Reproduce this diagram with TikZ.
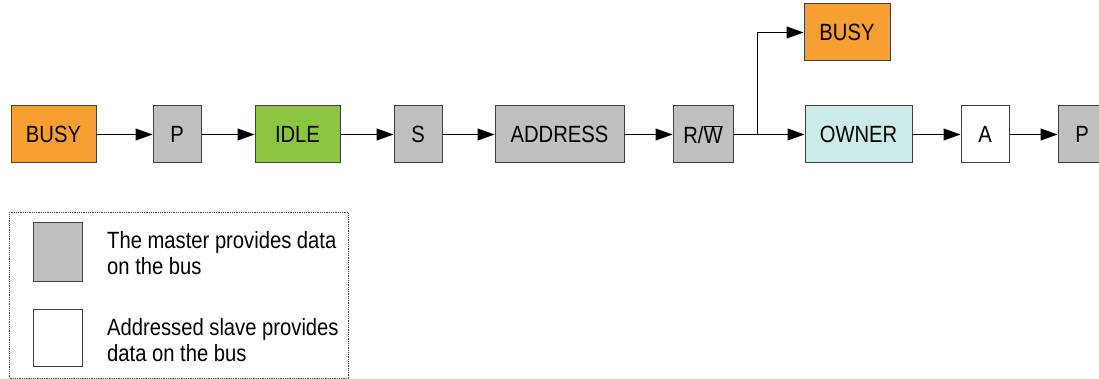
\documentclass[tikz,border=0pt]{standalone}
\usepackage{fontspec}
\setmainfont[FakeStretch=0.86]{Liberation Sans}
\usetikzlibrary{arrows.meta}
\definecolor{busyc}{HTML}{F79F32}
\definecolor{idlec}{HTML}{8CC63F}
\definecolor{grayc}{HTML}{C0C0C0}
\definecolor{ownerc}{HTML}{CCEBE8}
\definecolor{edgec}{HTML}{404040}
\begin{document}
\begin{tikzpicture}[x=1pt,y=-1pt,
  box/.style={draw=edgec,line width=1pt,minimum height=57pt,inner sep=0pt,
    font=\fontsize{23.5}{26}\selectfont},
  conn/.style={line width=1pt,-{Triangle[length=17pt,width=12pt]}},
  legtext/.style={anchor=west,align=left,inner sep=0pt,
    font=\fontsize{23.5}{26}\selectfont}]
\clip (0,0) rectangle (1099,379);
\node[box,fill=busyc,minimum width=85pt] (busy1) at (53.5,134.5) {BUSY};
\node[box,fill=grayc,minimum width=48pt] (p1) at (177,134.5) {P};
\node[box,fill=idlec,minimum width=85pt] (idle) at (297.5,134.5) {IDLE};
\node[box,fill=grayc,minimum width=48pt] (s) at (418,134.5) {S};
\node[box,fill=grayc,minimum width=129pt] (addr) at (559.5,134.5) {ADDRESS};
\node[box,fill=grayc,minimum width=60pt] (rw) at (703,134.5) {R/$\overline{\mbox{W}}$};
\node[box,fill=busyc,minimum width=86pt] (busy2) at (847,32.5) {BUSY};
\node[box,fill=ownerc,minimum width=107pt] (owner) at (858.5,134.5) {OWNER};
\node[box,fill=white,minimum width=48pt] (a) at (985,134.5) {A};
\node[box,fill=grayc,minimum width=48pt] (p2) at (1082,134.5) {P};
\coordinate (br) at (757,134.5);
\draw[conn] (busy1) -- (p1);
\draw[conn] (p1) -- (idle);
\draw[conn] (idle) -- (s);
\draw[conn] (s) -- (addr);
\draw[conn] (addr) -- (rw);
\draw[conn] (rw) -- (owner);
\draw[conn] (br) |- (busy2);
\draw[conn] (owner) -- (a);
\draw[conn] (a) -- (p2);
% legend
\draw[edgec,densely dotted,line width=0.8pt] (9.5,212.5) rectangle (348,378);
\node[box,fill=grayc,minimum width=49pt,minimum height=58pt] (lg) at (57.5,252) {};
\node[box,fill=white,minimum width=49pt,minimum height=57pt] (lw) at (57.5,337.5) {};
\node[legtext] (tg) at (107,253) {The master provides data\\on the bus};
\node[legtext] (tw) at (107,340) {Addressed slave provides\\data on the bus};
\end{tikzpicture}
\end{document}
